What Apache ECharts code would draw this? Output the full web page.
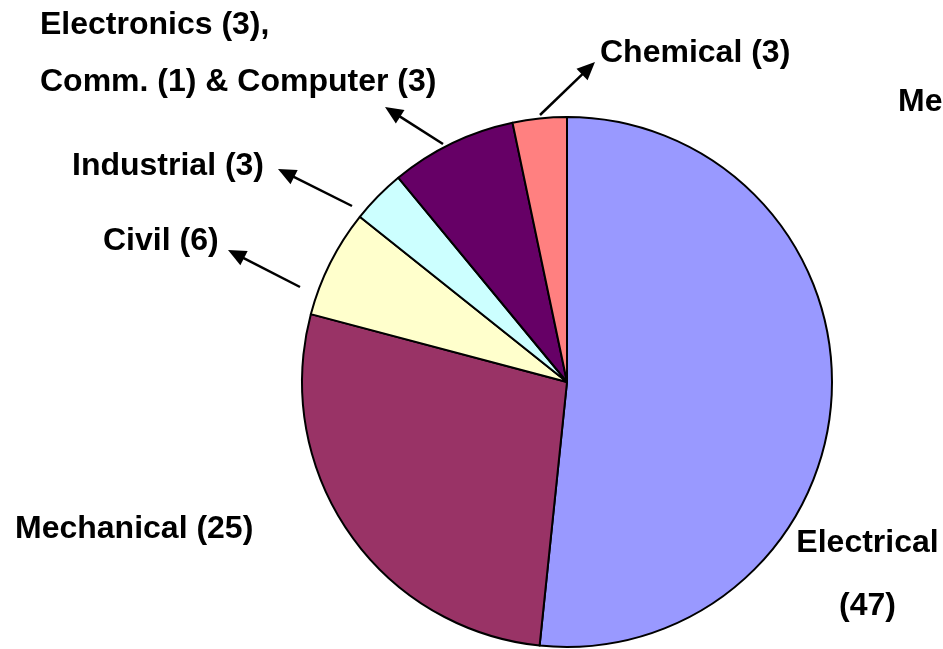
<!DOCTYPE html>
<html>
<head>
<meta charset="utf-8">
<script src="https://cdn.jsdelivr.net/npm/echarts@6/dist/echarts.min.js"></script>
<style>
html, body { margin: 0; padding: 0; background: #fff; }
#main { width: 943px; height: 649px; }
</style>
</head>
<body>
<div id="main"></div>
<script>
// data
const names = ['Electrical', 'Mechanical', 'Civil', 'Industrial', 'Electronics', 'Chemical']
const values = [47, 25, 6, 3, 7, 3]
const labelTexts = [
    'Electrical\n(47)',
    'Mechanical (25)',
    'Civil (6)',
    'Industrial (3)',
    'Electronics (3),\nComm. (1) & Computer (3)',
    'Chemical (3)'
]
const colors = ['#9999FF', '#993366', '#FFFFCC', '#CCFFFF', '#660066', '#FF8080']

// where the labels sit (pixels)
const labelPos = [
    { x: 867.5, y: 575, align: 'center', lh: 63 },
    { x: 15, y: 529, align: 'left', lh: 36 },
    { x: 103, y: 241, align: 'left', lh: 36 },
    { x: 72, y: 166, align: 'left', lh: 36 },
    { x: 40, y: 54, align: 'left', lh: 57 },
    { x: 600, y: 53, align: 'left', lh: 36 }
]

// annotation arrows: tail x, tail y, tip x, tip y
const arrows = [
    [540, 115, 595, 62],
    [443, 144, 385, 107],
    [352, 206, 278, 169],
    [300, 287, 228, 250]
]

const FONT = '"Liberation Sans", Arial, sans-serif'

function arrowGraphics (a) {
    const [x1, y1, x2, y2] = a
    const dx = x2 - x1, dy = y2 - y1
    const len = Math.sqrt(dx * dx + dy * dy)
    const ux = dx / len, uy = dy / len
    const headLen = 18, headW = 8
    const bx = x2 - ux * headLen, by = y2 - uy * headLen
    return [
        {
            type: 'line',
            shape: { x1: x1, y1: y1, x2: bx + ux * 2, y2: by + uy * 2 },
            style: { stroke: '#000', lineWidth: 2.5 },
            silent: true
        },
        {
            type: 'polygon',
            shape: { points: [[x2, y2], [bx - uy * headW, by + ux * headW], [bx + uy * headW, by - ux * headW]] },
            style: { fill: '#000' },
            silent: true
        }
    ]
}

let graphics = []
arrows.forEach(a => { graphics = graphics.concat(arrowGraphics(a)) })
// clipped label at the right edge
graphics.push({
    type: 'text',
    x: 898,
    y: 102.5,
    style: {
        text: 'Mechanical',
        font: 'bold 32px ' + FONT,
        fill: '#000',
        verticalAlign: 'middle'
    },
    silent: true
})

const chart = echarts.init(document.getElementById('main'))
const option = {
    animation: false,
    backgroundColor: '#fff',
    graphic: graphics,
    series: [
        {
            type: 'pie',
            center: [567, 382],
            radius: 265,
            startAngle: 90,
            clockwise: true,
            avoidLabelOverlap: false,
            emphasis: { disabled: true },
            itemStyle: { borderColor: '#000', borderWidth: 2 },
            label: {
                show: true,
                position: 'outside',
                color: '#000',
                fontFamily: FONT,
                fontWeight: 'bold',
                fontSize: 32
            },
            labelLine: { show: false },
            labelLayout: function (params) {
                const p = labelPos[params.dataIndex]
                return { x: p.x, y: p.y, align: p.align, verticalAlign: 'middle' }
            },
            data: names.map((n, i) => ({
                name: n,
                value: values[i],
                itemStyle: { color: colors[i] },
                label: {
                    formatter: labelTexts[i],
                    lineHeight: labelPos[i].lh,
                    align: labelPos[i].align
                }
            }))
        }
    ]
}
chart.setOption(option)
</script>
</body>
</html>
